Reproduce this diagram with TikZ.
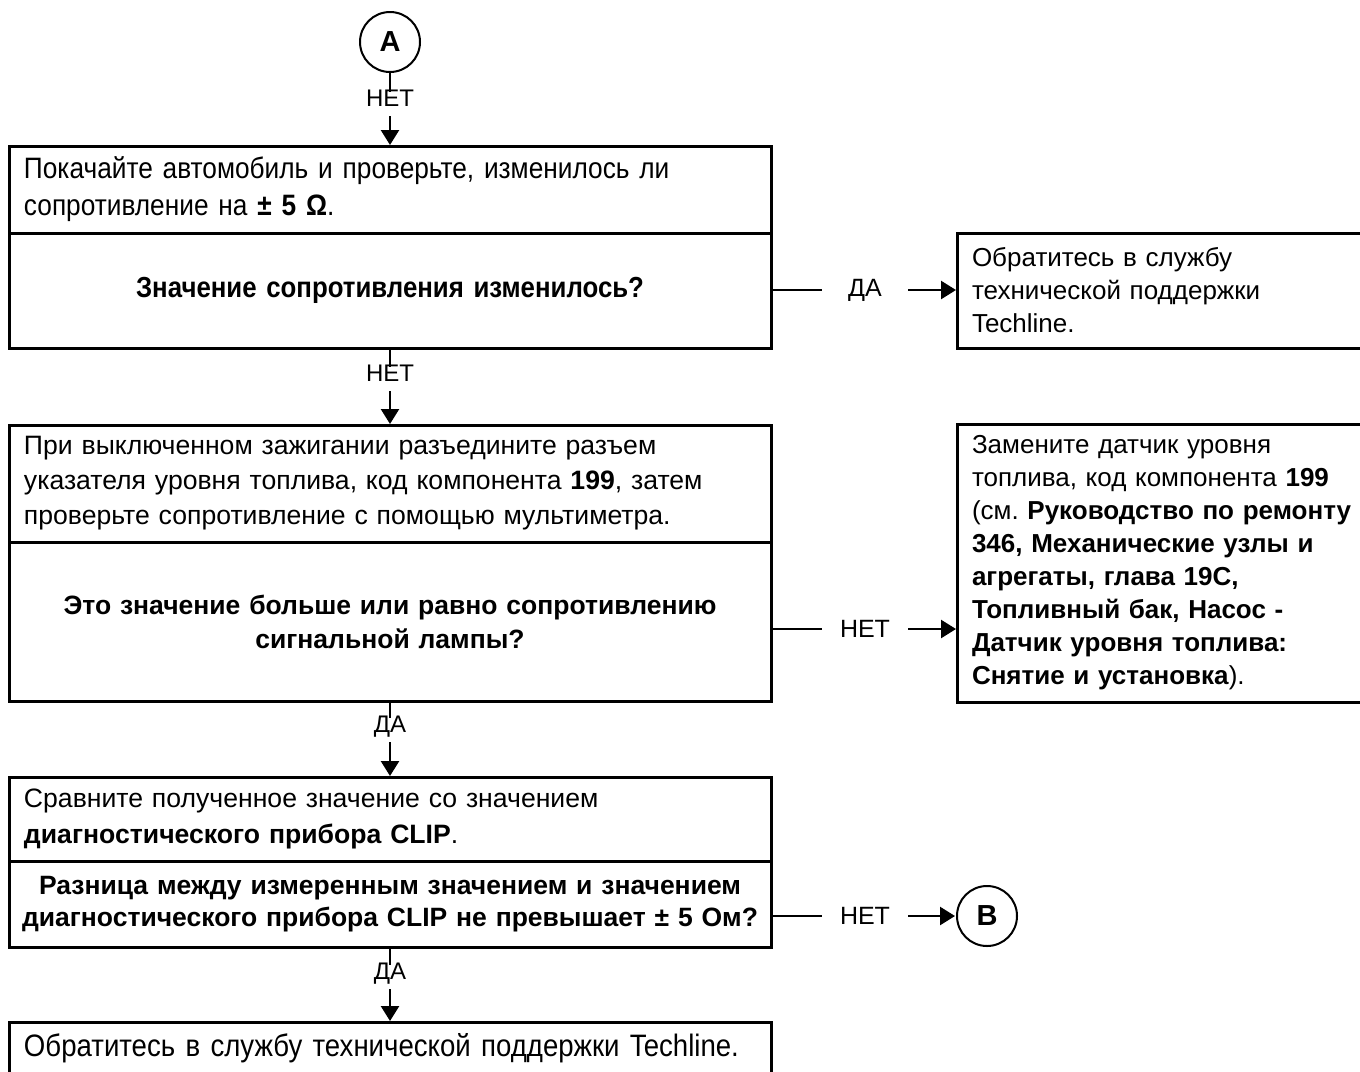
\documentclass[tikz,border=0pt]{standalone}
\usepackage{fontspec}
\setmainfont{Liberation Sans}
\newfontfamily\narrowfont[FakeStretch=0.89]{Liberation Sans}
\usetikzlibrary{positioning,arrows.meta}
\frenchspacing
\tikzset{
  stepbox/.style={draw, line width=1.5pt, outer sep=0pt, minimum width=381pt, text width=366pt,
    inner xsep=7.5pt, inner ysep=0pt, align=left, font=\fontsize{13.3}{17.5}\selectfont},
  askbox/.style={stepbox, text width=375pt, inner xsep=3pt, align=center,
    font=\bfseries\fontsize{13.25}{17}\selectfont},
  narrowbox/.style={stepbox, font=\narrowfont\fontsize{14.75}{18.5}\selectfont},
  sidebox/.style={draw, line width=1.5pt, outer sep=0pt, minimum width=230pt, text width=215pt,
    inner xsep=7.5pt, inner ysep=0pt, align=left, font=\fontsize{13}{16.5}\selectfont},
  endpt/.style={draw, circle, line width=1pt, minimum size=30pt, inner sep=0pt,
    font=\bfseries\fontsize{14.5}{14.5}\selectfont},
  vlbl/.style={inner sep=0pt, text height=9pt, text depth=0pt, font=\fontsize{12}{12}\selectfont},
  hlbl/.style={inner sep=0pt, minimum width=43pt, font=\fontsize{12.5}{12.5}\selectfont},
  conn/.style={line width=1.25pt},
  arr/.style={conn, -{Triangle[length=7.5pt,width=9pt]}, shorten >=0.5pt}
}

\begin{document}
\begin{tikzpicture}[x=0.5pt, y=-0.5pt]
  \useasboundingbox (0,0) rectangle (1360,1071);
  \clip (0,0) rectangle (1360,1071);

  \node[endpt] (A) at (390,42) {A};
  \node[vlbl] (n0) at (390,97) {НЕТ};

  \node[narrowbox, minimum height=43.5pt] (s1) at (390,189.5)
    {Покачайте автомобиль и проверьте, изменилось ли\\ сопротивление на \textbf{± 5 Ω}.};
  \node[askbox, font=\narrowfont\bfseries\fontsize{14.5}{17}\selectfont,
    minimum height=57.5pt, below=0pt of s1] (q1)
    {Значение сопротивления изменилось?};
  \node[sidebox, minimum height=57.5pt] (r1) at (1187,290.5)
    {Обратитесь в службу\\ технической поддержки\\ Techline.};
  \node[hlbl] (y1) at (865,290) {ДА};
  \node[vlbl] (n1) at (390,372) {НЕТ};

  \node[stepbox, minimum height=58.5pt] (s2) at (390,483.5)
    {При выключенном зажигании разъедините разъем\\ указателя уровня топлива, код компонента \textbf{199}, затем\\ проверьте сопротивление с помощью мультиметра.};
  \node[askbox, minimum height=79.5pt, below=0pt of s2] (q2)
    {Это значение больше или равно сопротивлению\\ сигнальной лампы?};
  \node[sidebox, minimum height=139pt] (r2) at (1187,563)
    {Замените датчик уровня\\ топлива, код компонента \textbf{199}\\ (см. \textbf{Руководство по ремонту}\\
     \textbf{346, Механические узлы и}\\ \textbf{агрегаты, глава 19C,}\\ \textbf{Топливный бак, Насос -}\\
     \textbf{Датчик уровня топлива:}\\ \textbf{Снятие и установка}).};
  \node[hlbl] (n2) at (865,629) {НЕТ};
  \node[vlbl] (d1) at (390,723) {ДА};

  \node[stepbox, font=\fontsize{13.3}{18}\selectfont, minimum height=42pt] (s3) at (390,819)
    {Сравните полученное значение со значением\\ \textbf{диагностического прибора CLIP}.};
  \node[askbox, font=\bfseries\fontsize{13.25}{16}\selectfont,
    minimum height=43pt, below=0pt of s3] (q3)
    {Разница между измеренным значением и значением\\ диагностического прибора CLIP не превышает ± 5 Ом?};
  \node[hlbl] (n3) at (865,916) {НЕТ};
  \node[endpt] (B) at (987,916) {B};
  \node[vlbl] (d2) at (390,970) {ДА};

  \node[narrowbox, font=\narrowfont\fontsize{15.5}{18.5}\selectfont, minimum height=26pt] (s4) at (390,1048)
    {Обратитесь в службу технической поддержки Techline.};

  \draw[conn] (A) -- ([yshift=-2pt]n0.north);
  \draw[arr] ([yshift=-5pt]n0.south) -- (s1);
  \draw[conn] (q1) -- ([yshift=-2pt]n1.north);
  \draw[arr] ([yshift=-5pt]n1.south) -- (s2);
  \draw[conn] (q2) -- ([yshift=-2pt]d1.north);
  \draw[arr] ([yshift=-5pt]d1.south) -- (s3);
  \draw[conn] (q3) -- ([yshift=-2pt]d2.north);
  \draw[arr] ([yshift=-5pt]d2.south) -- (s4);

  \draw[conn] (q1.east |- y1) -- (y1);
  \draw[arr] (y1) -- (r1.west |- y1);
  \draw[conn] (q2.east |- n2) -- (n2);
  \draw[arr] (n2) -- (r2.west |- n2);
  \draw[conn] (q3.east |- n3) -- (n3);
  \draw[arr] (n3) -- (B);
\end{tikzpicture}
\end{document}
